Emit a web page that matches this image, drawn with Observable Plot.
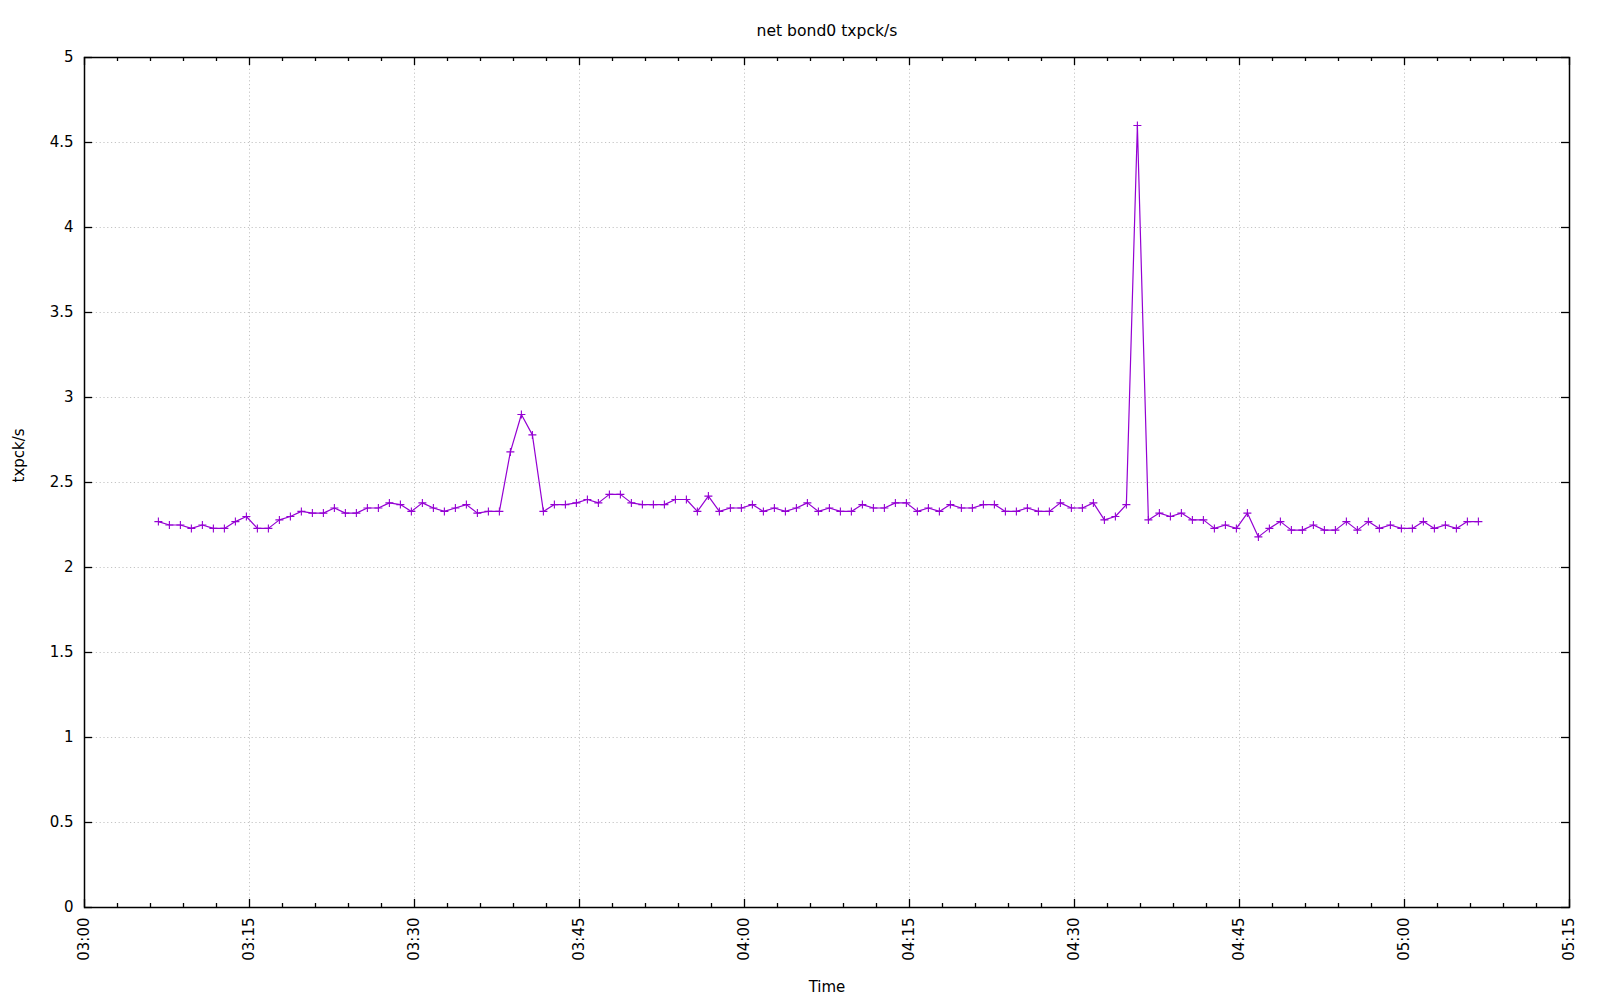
<!DOCTYPE html>
<html>
<head>
<meta charset="utf-8">
<script src="https://cdn.jsdelivr.net/npm/d3@7"></script>
<script src="https://cdn.jsdelivr.net/npm/@observablehq/plot@0.6"></script>
<style>
  html, body { margin: 0; padding: 0; background: #fff; }
  #chart svg { display: block; }
</style>
</head>
<body>
<div id="chart"></div>
<script>
// ---- data ----
const sampleTimes = [
  "03:06:43","03:07:43","03:08:43","03:09:43","03:10:43","03:11:43","03:12:43","03:13:43","03:14:43","03:15:43",
  "03:16:43","03:17:43","03:18:43","03:19:43","03:20:43","03:21:43","03:22:43","03:23:43","03:24:43","03:25:43",
  "03:26:43","03:27:43","03:28:43","03:29:43","03:30:43","03:31:43","03:32:43","03:33:43","03:34:43","03:35:43",
  "03:36:43","03:37:43","03:38:43","03:39:43","03:40:43","03:41:43","03:42:43","03:43:43","03:44:43","03:45:43",
  "03:46:43","03:47:43","03:48:43","03:49:43","03:50:43","03:51:43","03:52:43","03:53:43","03:54:43","03:55:43",
  "03:56:43","03:57:43","03:58:43","03:59:43","04:00:43","04:01:43","04:02:43","04:03:43","04:04:43","04:05:43",
  "04:06:43","04:07:43","04:08:43","04:09:43","04:10:43","04:11:43","04:12:43","04:13:43","04:14:43","04:15:43",
  "04:16:43","04:17:43","04:18:43","04:19:43","04:20:43","04:21:43","04:22:43","04:23:43","04:24:43","04:25:43",
  "04:26:43","04:27:43","04:28:43","04:29:43","04:30:43","04:31:43","04:32:43","04:33:43","04:34:43","04:35:43",
  "04:36:43","04:37:43","04:38:43","04:39:43","04:40:43","04:41:43","04:42:43","04:43:43","04:44:43","04:45:43",
  "04:46:43","04:47:43","04:48:43","04:49:43","04:50:43","04:51:43","04:52:43","04:53:43","04:54:43","04:55:43",
  "04:56:43","04:57:43","04:58:43","04:59:43","05:00:43","05:01:43","05:02:43","05:03:43","05:04:43","05:05:43",
  "05:06:43"
];
const txpckValues = [
  2.27, 2.25, 2.25, 2.23, 2.25, 2.23, 2.23, 2.27, 2.30, 2.23,
  2.23, 2.28, 2.30, 2.33, 2.32, 2.32, 2.35, 2.32, 2.32, 2.35,
  2.35, 2.38, 2.37, 2.33, 2.38, 2.35, 2.33, 2.35, 2.37, 2.32,
  2.33, 2.33, 2.68, 2.90, 2.78, 2.33, 2.37, 2.37, 2.38, 2.40,
  2.38, 2.43, 2.43, 2.38, 2.37, 2.37, 2.37, 2.40, 2.40, 2.33,
  2.42, 2.33, 2.35, 2.35, 2.37, 2.33, 2.35, 2.33, 2.35, 2.38,
  2.33, 2.35, 2.33, 2.33, 2.37, 2.35, 2.35, 2.38, 2.38, 2.33,
  2.35, 2.33, 2.37, 2.35, 2.35, 2.37, 2.37, 2.33, 2.33, 2.35,
  2.33, 2.33, 2.38, 2.35, 2.35, 2.38, 2.28, 2.30, 2.37, 4.60,
  2.28, 2.32, 2.30, 2.32, 2.28, 2.28, 2.23, 2.25, 2.23, 2.32,
  2.18, 2.23, 2.27, 2.22, 2.22, 2.25, 2.22, 2.22, 2.27, 2.22,
  2.27, 2.23, 2.25, 2.23, 2.23, 2.27, 2.23, 2.25, 2.23, 2.27,
  2.27
];
const xTickLabels = ["03:00","03:15","03:30","03:45","04:00","04:15","04:30","04:45","05:00","05:15"];
const yTickValues = [0, 0.5, 1, 1.5, 2, 2.5, 3, 3.5, 4, 4.5, 5];
const titleText = "net bond0 txpck/s";
const xLabelText = "Time";
const yLabelText = "txpck/s";

// ---- build ----
const day = "2024-01-01";
const toDate = (t) => new Date(`${day}T${t.length === 5 ? t + ":00" : t}Z`);
const data = sampleTimes.map((t, i) => ({time: toDate(t), value: txpckValues[i]}));
const xMajor = xTickLabels.map(toDate);
const xDomain = [xMajor[0], xMajor[xMajor.length - 1]];
const xMinor = d3.utcMinute.every(3).range(xDomain[0], xDomain[1]).filter(d => d.getUTCMinutes() % 15 !== 0);
const xInner = xMajor.slice(1, -1);
const yInner = yTickValues.slice(1, -1);

const W = 1600, H = 1000;
const mL = 84, mR = 31, mT = 57, mB = 93;
const frameW = W - mL - mR, frameH = H - mT - mB;
const majorLen = 8, minorLen = 4;
const purple = "#9400d3";
const gridStyle = {stroke: "#c4c4c4", strokeWidth: 1, strokeDasharray: "1.2,2.6"};

const chart = Plot.plot({
  width: W,
  height: H,
  marginLeft: mL,
  marginRight: mR,
  marginTop: mT,
  marginBottom: mB,
  style: {fontFamily: "'DejaVu Sans', sans-serif", fontSize: "15px", color: "#000", background: "#fff"},
  x: {type: "utc", domain: xDomain},
  y: {type: "linear", domain: [0, 5]},
  marks: [
    // grid
    Plot.ruleY(yInner, {y: d => d, insetLeft: majorLen, insetRight: majorLen, ...gridStyle}),
    Plot.ruleX(xInner, {x: d => d, insetTop: majorLen, insetBottom: majorLen, ...gridStyle}),
    // ticks (inward, mirrored)
    Plot.tickX(xMajor, {x: d => d, stroke: "#000", strokeWidth: 1.3, insetTop: frameH - majorLen}),
    Plot.tickX(xMajor, {x: d => d, stroke: "#000", strokeWidth: 1.3, insetBottom: frameH - majorLen}),
    Plot.tickX(xMinor, {x: d => d, stroke: "#000", strokeWidth: 1.3, insetTop: frameH - minorLen}),
    Plot.tickX(xMinor, {x: d => d, stroke: "#000", strokeWidth: 1.3, insetBottom: frameH - minorLen}),
    Plot.tickY(yTickValues, {y: d => d, stroke: "#000", strokeWidth: 1.3, insetRight: frameW - majorLen}),
    Plot.tickY(yTickValues, {y: d => d, stroke: "#000", strokeWidth: 1.3, insetLeft: frameW - majorLen}),
    // axes labels
    Plot.axisY(yTickValues, {tickSize: 0, tickPadding: 11, label: null, fontSize: 15, tickFormat: d => String(d)}),
    Plot.axisX(xMajor, {tickSize: 0, tickPadding: 10, tickRotate: -90, label: null, fontSize: 15, tickFormat: d3.utcFormat("%H:%M")}),
    // frame
    Plot.frame({stroke: "#000", strokeWidth: 1.5}),
    // data
    Plot.line(data, {x: "time", y: "value", stroke: purple, strokeWidth: 1.2}),
    Plot.dot(data, {x: "time", y: "value", symbol: "plus", r: 2.7, stroke: purple, strokeWidth: 1.1, fill: "none"}),
    // title and axis titles
    Plot.text([titleText], {text: d => d, frameAnchor: "top", lineAnchor: "bottom", dy: -21.5, fontSize: 15.6, fill: "#000"}),
    Plot.text([xLabelText], {text: d => d, frameAnchor: "bottom", lineAnchor: "bottom", dy: 84, fontSize: 15, fill: "#000"}),
    Plot.text([yLabelText], {text: d => d, frameAnchor: "left", lineAnchor: "bottom", rotate: -90, dx: -61, fontSize: 15, fill: "#000"})
  ]
});
document.getElementById("chart").appendChild(chart);
</script>
</body>
</html>
